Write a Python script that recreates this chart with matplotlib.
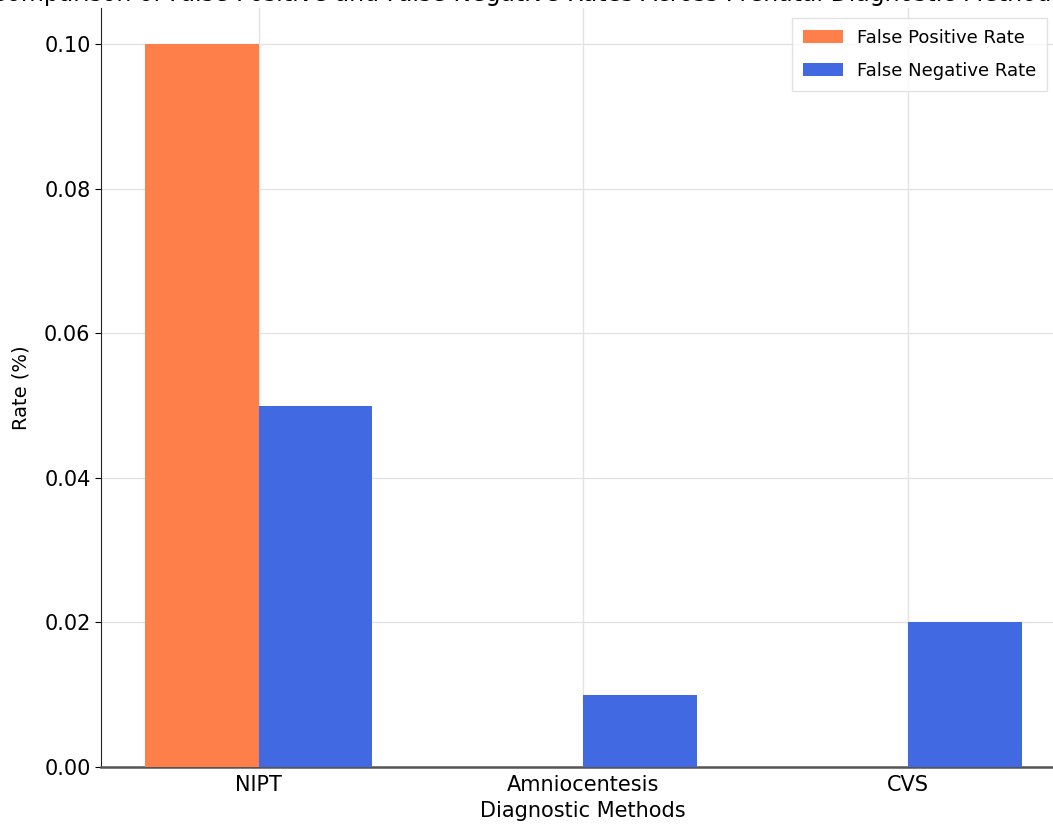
import matplotlib
matplotlib.use("Agg")
import matplotlib.pyplot as plt
import numpy as np

methods = ["NIPT", "Amniocentesis", "CVS"]
false_positive = [0.10, 0.0, 0.0]
false_negative = [0.05, 0.01, 0.02]
yticks = [0, 0.02, 0.04, 0.06, 0.08, 0.10]
ytick_labels = ["0.00", "0.02", "0.04", "0.06", "0.08", "0.10"]

fig = plt.figure(figsize=(10.53, 8.34), dpi=100)
ax = fig.add_axes([0.0959, 0.0803, 0.9161, 0.9101])

x = np.arange(len(methods))
w = 0.35
ax.bar(x - w/2, false_positive, w, color="#FF7F4A", label="False Positive Rate", zorder=3)
ax.bar(x + w/2, false_negative, w, color="#4169E1", label="False Negative Rate", zorder=3)

ax.set_xticks(x)
ax.set_xticklabels(methods, fontsize=15)
ax.set_yticks(yticks)
ax.set_yticklabels(ytick_labels)
ax.tick_params(axis="y", labelsize=15, length=4)
ax.tick_params(axis="x", length=0, pad=6)
ax.set_xlabel("Diagnostic Methods", fontsize=15, labelpad=4)
ax.set_ylabel("Rate (%)", fontsize=14, labelpad=10)
ax.grid(True, color="#e3e3e3", linewidth=1, zorder=0)
for s in ["top", "right"]:
    ax.spines[s].set_visible(False)
ax.spines["left"].set_color("#222222")
ax.spines["bottom"].set_color("#555555")
ax.spines["bottom"].set_linewidth(1.8)

ax.legend(loc="upper right", bbox_to_anchor=(0.981, 0.987), borderaxespad=0,
          fontsize=13, frameon=True, fancybox=False, edgecolor="#dddddd",
          handlelength=2.2, labelspacing=0.85, borderpad=0.6)

fig.text(0.5, 0.9985, "Comparison of False Positive and False Negative Rates Across Prenatal Diagnostic Methods",
         ha="center", va="baseline", fontsize=17)

fig.savefig("out.png", dpi=100)
